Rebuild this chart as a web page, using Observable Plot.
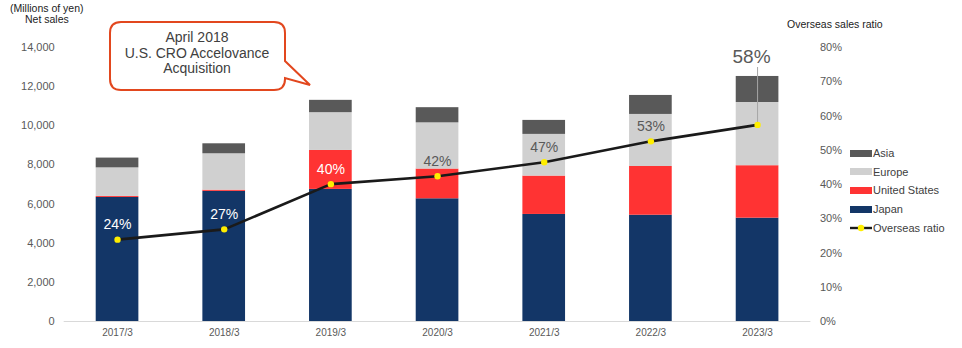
<!DOCTYPE html>
<html><head><meta charset="utf-8">
<script src="https://cdn.jsdelivr.net/npm/d3@7"></script>
<script src="https://cdn.jsdelivr.net/npm/@observablehq/plot@0.6"></script>
<style>
body{margin:0;background:#fff;font-family:"Liberation Sans",Arial,sans-serif;}
#wrap{position:relative;width:962px;height:348px;}
.t{position:absolute;font-size:10.5px;color:#222;white-space:nowrap;}
#legend{position:absolute;left:850px;top:144px;font-size:11px;color:#404040;}
.row{height:18.6px;display:flex;align-items:center;}
.sw{width:22px;height:7px;margin-right:1px;}
</style></head>
<body><div id="wrap"></div>
<script>
const years = ["2017/3","2018/3","2019/3","2020/3","2021/3","2022/3","2023/3"];
const seriesNames = ["Japan","United States","Europe","Asia"];
const seriesColors = ["#133667","#ff3333","#d0d0d0","#595959"];
const japan  = [6340, 6650, 6750, 6270, 5470, 5430, 5280];
const us     = [50, 60, 1990, 1520, 1960, 2490, 2680];
const europe = [1460, 1860, 1930, 2360, 2130, 2660, 3230];
const asia   = [500, 510, 630, 775, 715, 970, 1330];
const ratio  = [23.9, 26.9, 40.1, 42.4, 46.5, 52.6, 57.4];
const ratioLabels = ["24%","27%","40%","42%","47%","53%","58%"];
const salesTicks = [0,2000,4000,6000,8000,10000,12000,14000];
const ratioTicks = [0,10,20,30,40,50,60,70,80];
const salesMax = 14000, ratioMax = 80;
const toY = r => r * salesMax / ratioMax;

const seriesValues = [japan, us, europe, asia];
const bars = [];
years.forEach((y, i) => seriesNames.forEach((s, k) => bars.push({year: y, series: s, value: seriesValues[k][i]})));
const pts = years.map((y, i) => ({year: y, r: ratio[i], label: ratioLabels[i], idx: i}));
const normal = pts.slice(0, 6), last = pts.slice(6);

const chart = Plot.plot({
  width: 962, height: 348,
  marginLeft: 63.7, marginRight: 151.6, marginTop: 47, marginBottom: 27,
  style: {fontFamily: '"Liberation Sans", Arial, sans-serif', background: "transparent"},
  x: {domain: years, paddingInner: 0.6, paddingOuter: 0.3, round: false, label: null},
  y: {domain: [0, salesMax], label: null},
  color: {domain: seriesNames, range: seriesColors},
  marks: [
    Plot.barY(bars, {x: "year", y: "value", fill: "series", order: seriesNames}),
    Plot.ruleY([0], {stroke: "#d9d9d9"}),
    Plot.axisY({ticks: salesTicks, tickFormat: d3.format(","), tickSize: 0, tickPadding: 9.5, fontSize: 11, color: "#595959", label: null}),
    Plot.axisY({anchor: "right", ticks: ratioTicks.map(toY), tickFormat: d => Math.round(d * ratioMax / salesMax) + "%", tickSize: 0, tickPadding: 9, fontSize: 11, color: "#595959", label: null}),
    Plot.axisX({tickSize: 0, tickPadding: 7, fontSize: 10, color: "#595959", label: null}),
    Plot.ruleX(last, {x: "year", y1: salesMax, y2: d => toY(d.r), insetTop: 20, stroke: "#a6a6a6", strokeWidth: 1}),
    Plot.line(pts, {x: "year", y: d => toY(d.r), stroke: "#1a1a1a", strokeWidth: 2.6}),
    Plot.dot(pts, {x: "year", y: d => toY(d.r), r: 3.2, fill: "#ffee00", stroke: "none"}),
    Plot.text(normal, {x: "year", y: d => toY(d.r), text: "label", dy: -15, fontSize: 14, fill: d => d.idx < 3 ? "#ffffff" : "#595959"}),
    Plot.text(last, {x: "year", y: d => toY(d.r), text: "label", dy: -68, dx: -6, fontSize: 19, fill: "#595959"})
  ]
});
const wrap = document.getElementById("wrap");
chart.style.position = "absolute"; chart.style.left = "0"; chart.style.top = "0";
wrap.appendChild(chart);

function addText(txt, left, top, extra) {
  const d = document.createElement("div");
  d.className = "t"; d.textContent = txt;
  d.style.left = left + "px"; d.style.top = top + "px";
  if (extra) Object.assign(d.style, extra);
  wrap.appendChild(d);
}
addText("(Millions of yen)", 10, 2);
addText("Net sales", 25, 13);
addText("Overseas sales ratio", 787, 18);

// callout
const ns = "http://www.w3.org/2000/svg";
const co = document.createElementNS(ns, "svg");
co.setAttribute("width", 962); co.setAttribute("height", 348);
co.style.position = "absolute"; co.style.left = "0"; co.style.top = "0"; co.style.pointerEvents = "none";
co.innerHTML = `<path d="M121,22 H274 Q285,22 285,33 V61 L310,85 L285,78 V79 Q285,90 274,90 H121 Q110,90 110,79 V33 Q110,22 121,22 Z" fill="#fff" stroke="#e2471e" stroke-width="2"/>
<g font-family="Liberation Sans, Arial, sans-serif" font-size="14" fill="#404040" text-anchor="middle">
<text x="197" y="42">April 2018</text><text x="197" y="57.5">U.S. CRO Accelovance</text><text x="197" y="73">Acquisition</text></g>`;
wrap.appendChild(co);

// legend
const lg = document.createElement("div"); lg.id = "legend";
const legendItems = [["Asia","#595959"],["Europe","#d0d0d0"],["United States","#ff3333"],["Japan","#133667"]];
legendItems.forEach(([n, c]) => {
  const r = document.createElement("div"); r.className = "row";
  r.innerHTML = `<span class="sw" style="background:${c}"></span><span>${n}</span>`;
  lg.appendChild(r);
});
const lr = document.createElement("div"); lr.className = "row";
lr.innerHTML = `<svg width="23" height="10"><line x1="0" y1="5" x2="22" y2="5" stroke="#1a1a1a" stroke-width="2.4"/><circle cx="11" cy="5" r="3.2" fill="#ffee00"/></svg><span>Overseas ratio</span>`;
lg.appendChild(lr);
wrap.appendChild(lg);
</script></body></html>
